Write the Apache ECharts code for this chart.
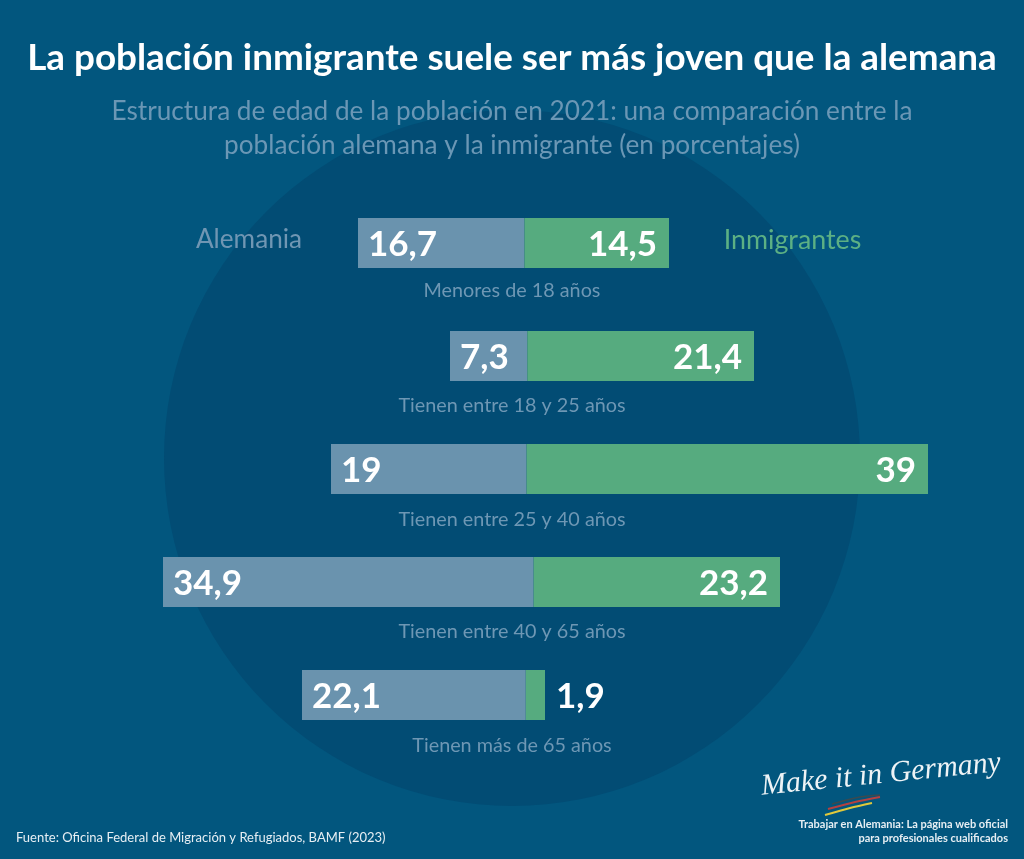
<!DOCTYPE html>
<html><head><meta charset="utf-8">
<style>html,body{margin:0;padding:0;background:#02567e}#c{width:1024px;height:859px}</style>
<script src="https://cdn.jsdelivr.net/npm/echarts@6/dist/echarts.min.js"></script>
</head><body><div id="c"></div>
<script>
const categories = ['Menores de 18 años','Tienen entre 18 y 25 años','Tienen entre 25 y 40 años','Tienen entre 40 y 65 años','Tienen más de 65 años'];
const alemania = [16.7, 7.3, 19, 34.9, 22.1];
const inmigrantes = [14.5, 21.4, 39, 23.2, 1.9];
const seriesNames = ['Alemania','Inmigrantes'];
const titleText = 'La población inmigrante suele ser más joven que la alemana';
const subtitleText = 'Estructura de edad de la población en 2021: una comparación entre la\npoblación alemana y la inmigrante (en porcentajes)';
const sourceText = 'Fuente: Oficina Federal de Migración y Refugiados, BAMF (2023)';
const footerText = 'Trabajar en Alemania: La página web oficial\npara profesionales cualificados';
const logoText = 'Make it in Germany';

// layout of each row (the original's rows are placed individually)
const rowLeft = [358, 450, 331, 163, 302];
const rowRight = [669, 754, 928, 780, 545];
const rowTop = [218, 331, 444, 557, 670];
const rowHeight = 50;
const ageY = [291, 406, 520, 632, 746];

const FONT = 'Lato';
const fmt = v => String(Math.abs(v)).replace('.', ',');
const grids = [], xAxes = [], yAxes = [], series = [];
categories.forEach((cat, i) => {
  grids.push({left: rowLeft[i], top: rowTop[i], width: rowRight[i]-rowLeft[i], height: rowHeight});
  xAxes.push({gridIndex:i, type:'value', min:-alemania[i], max:inmigrantes[i], show:false});
  yAxes.push({gridIndex:i, type:'category', data:[cat], show:false});
  const numLabel = {show:true, color:'#fff', fontFamily:FONT, fontWeight:'bold', fontSize:35, offset:[0,2], formatter:p=>fmt(p.value)};
  series.push({name:seriesNames[0], type:'bar', stack:'r'+i, xAxisIndex:i, yAxisIndex:i, barWidth:rowHeight,
    data:[-alemania[i]], itemStyle:{color:'#6a93ae'}, silent:true,
    label:{...numLabel, position:'insideLeft', distance:10}});
  const small = inmigrantes[i] < 3;
  series.push({name:seriesNames[1], type:'bar', stack:'r'+i, xAxisIndex:i, yAxisIndex:i, barWidth:rowHeight,
    data:[inmigrantes[i]], itemStyle:{color:'#56ab7f'}, silent:true,
    label:{...numLabel, position: small ? 'right' : 'insideRight', distance: small ? 11 : 12}});
});

const txt = (text,x,y,size,color,align='center',weight='normal',extra={}) => ({type:'text', x, y, z:5,
  style:{text, fill:color, font:`${weight} ${size}px ${FONT}`, textAlign:align, textVerticalAlign:'middle', ...extra}});
const stroke = (pts,color,w) => ({type:'polyline', z:5, shape:{points:pts, smooth:0.3}, style:{stroke:color, lineWidth:w, fill:null}});

const graphics = [
  {type:'circle', z:0, shape:{cx:512, cy:458, r:348}, style:{fill:'#024c74'}},
  txt(seriesNames[0], 249, 240, 26.2, '#7096b3'),
  txt(seriesNames[1], 792.5, 240, 26.8, '#5cb084'),
  ...categories.map((c,i)=>txt(c, 512, ageY[i], 19.8, '#6e97b4')),
  txt(sourceText, 16, 838, 13, '#e6eef3', 'left'),
  {type:'text', x:1008, y:831, z:5, style:{text:footerText, fill:'#e6eef3', font:`bold 11px ${FONT}`, textAlign:'right', textVerticalAlign:'middle', lineHeight:14}},
  {type:'text', x:881, y:775, z:5, rotation:0.1, style:{text:logoText, fill:'#eef3f6', font:'italic 30px "Liberation Serif"', textAlign:'center', textVerticalAlign:'middle'}},
  stroke([[832,804],[860,797],[880,795]],'#3a4a50',1.5),
  stroke([[828,809],[855,802],[880,797]],'#b5403f',2),
  stroke([[825,815],[850,808],[872,803]],'#e0c83c',2)
];

const chart = echarts.init(document.getElementById('c'), null, {renderer:'canvas'});
chart.setOption({
  animation:false,
  backgroundColor:'#02567e',
  title:[
    {text:titleText, left:507, top:33, textAlign:'center', textStyle:{color:'#fff', fontFamily:FONT, fontWeight:'bold', fontSize:36.85, lineHeight:40}},
    {text:subtitleText, left:507, top:90, textAlign:'center', textStyle:{color:'#6b97b5', fontFamily:FONT, fontWeight:'normal', fontSize:26.2, lineHeight:34}}
  ],
  grid:grids, xAxis:xAxes, yAxis:yAxes, series, graphic:graphics
});
</script></body></html>
